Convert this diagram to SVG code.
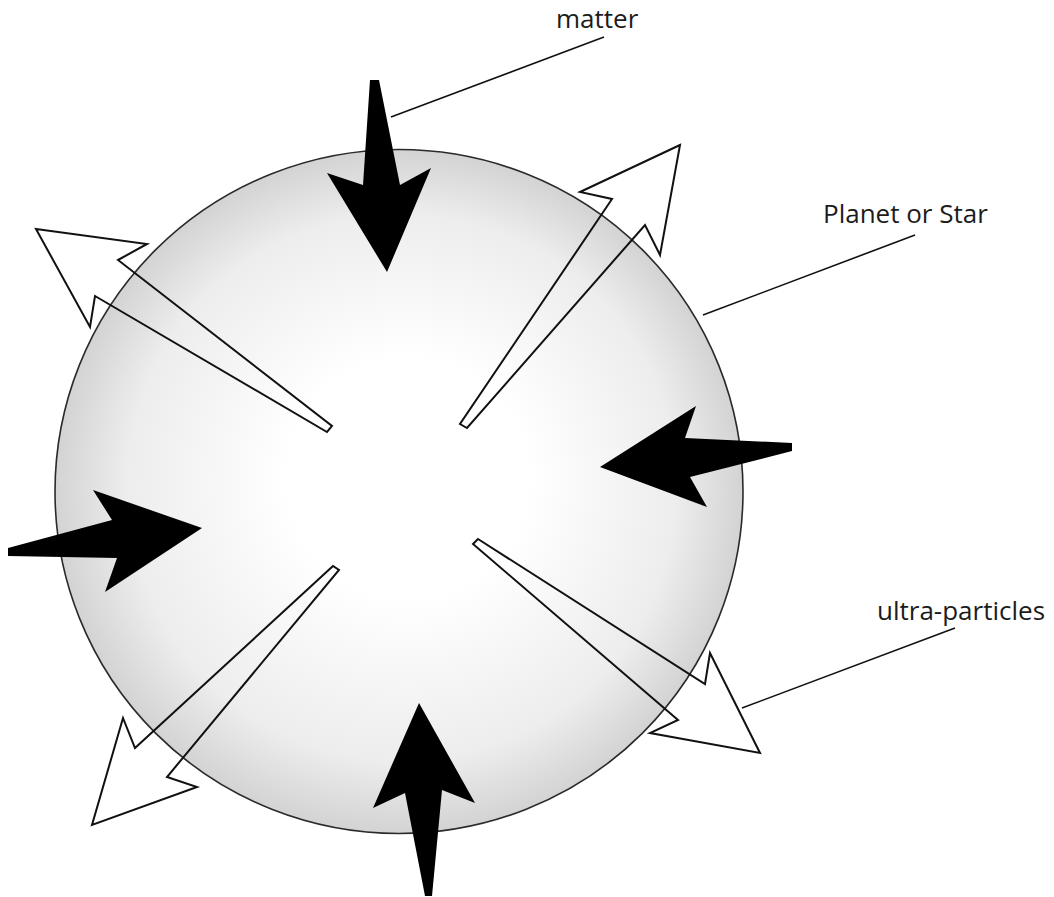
<svg xmlns="http://www.w3.org/2000/svg" width="1054" height="897" viewBox="0 0 1054 897">
  <defs>
    <radialGradient id="g" cx="0.5" cy="0.5" r="0.5" fx="0.52" fy="0.47">
      <stop offset="0" stop-color="#ffffff"/>
      <stop offset="0.35" stop-color="#ffffff"/>
      <stop offset="0.8" stop-color="#ededed"/>
      <stop offset="1" stop-color="#d3d3d3"/>
    </radialGradient>
  </defs>
  <style>
    .planet { fill: url(#g); stroke: #2a2a2a; stroke-width: 1.6; }
    .matter { fill: #000; stroke: none; }
    .ultra { fill: none; stroke: #111; stroke-width: 2; stroke-linejoin: miter; }
    .lead { stroke: #111; stroke-width: 1.6; fill: none; }
    .lbl { font-family: "Open Sans", "Noto Sans", "Liberation Sans", sans-serif; font-size: 26px; fill: #1c1c1c; }
  </style>
  <rect width="1054" height="897" fill="#fff"/>
  <g id="planet">
    <ellipse class="planet" cx="399" cy="491.5" rx="344" ry="342"/>
  </g>
  <g id="ultra-particles-arrows">
    <polygon id="ultra-nw" class="ultra" points="36,229 147,244 118,260 332,426 327,432 95,296 90,327"/>
    <polygon id="ultra-ne" class="ultra" points="680,145 580,192 612,199 460,424 467,428 645,225 660,255"/>
    <polygon id="ultra-sw" class="ultra" points="333,566 135,748 123,718 92,825 197,787 167,777 339,570"/>
    <polygon id="ultra-se" class="ultra" points="478,539 705,684 710,653 760,753 650,733 678,720 473,544"/>
  </g>
  <g id="matter-arrows">
    <polygon id="matter-top" class="matter" points="370,80 379,80 400,185 431,168 387,272 327,173 363,185"/>
    <polygon id="matter-right" class="matter" points="792,443 792,451 690,477 707,507 600,467 696,406 685,438"/>
    <polygon id="matter-left" class="matter" points="8,548 112,520 93,490 202,528 105,592 117,558 8,556"/>
    <polygon id="matter-bottom" class="matter" points="419,703 475,803 442,790 432,896 425,896 405,793 373,808"/>
  </g>
  <g id="connectors">
    <line class="lead" x1="391" y1="117" x2="604" y2="37"/>
    <line class="lead" x1="703" y1="315" x2="915" y2="235"/>
    <line class="lead" x1="742" y1="708" x2="955" y2="628"/>
  </g>
  <g id="label-matter"><text class="lbl" x="556" y="28">matter</text></g>
  <g id="label-planet"><text class="lbl" x="823" y="223">Planet or Star</text></g>
  <g id="label-ultra"><text class="lbl" x="877" y="620">ultra-particles</text></g>
</svg>
